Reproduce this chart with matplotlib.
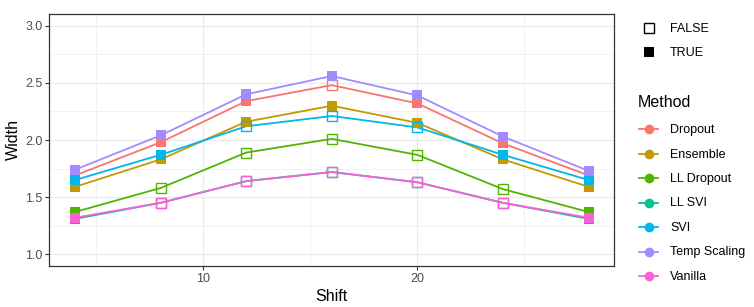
import matplotlib
matplotlib.use("Agg")
import matplotlib.pyplot as plt
from matplotlib.lines import Line2D
from matplotlib.ticker import MultipleLocator, FormatStrFormatter

plt.rcParams["font.family"] = ["Liberation Sans", "DejaVu Sans"]

# --- data ---
shift = [4, 8, 12, 16, 20, 24, 28]

methods = ["Dropout", "Ensemble", "LL Dropout", "LL SVI", "SVI", "Temp Scaling", "Vanilla"]
colors = ["#F8766D", "#C49A00", "#53B400", "#00C094", "#00B6EB", "#A58AFF", "#FB61D7"]

width_dropout = [1.69, 1.98, 2.34, 2.48, 2.32, 1.97, 1.69]
width_ensemble = [1.59, 1.83, 2.16, 2.30, 2.15, 1.83, 1.59]
width_ll_dropout = [1.37, 1.58, 1.89, 2.01, 1.87, 1.57, 1.37]
width_ll_svi = [1.31, 1.45, 1.64, 1.72, 1.63, 1.45, 1.31]
width_svi = [1.65, 1.87, 2.12, 2.21, 2.11, 1.87, 1.65]
width_temp = [1.74, 2.04, 2.40, 2.56, 2.39, 2.03, 1.73]
width_vanilla = [1.32, 1.45, 1.64, 1.72, 1.63, 1.45, 1.32]

# TRUE -> filled square, FALSE -> open square
flag_dropout = [True, True, True, False, True, True, True]
flag_ensemble = [True, True, True, True, True, True, True]
flag_ll_dropout = [True, False, False, False, False, False, True]
flag_ll_svi = [True, False, False, False, False, False, True]
flag_svi = [True, True, False, False, False, True, True]
flag_temp = [True, True, True, True, True, True, True]
flag_vanilla = [True, False, False, False, False, False, True]

widths = [width_dropout, width_ensemble, width_ll_dropout, width_ll_svi,
          width_svi, width_temp, width_vanilla]
flags = [flag_dropout, flag_ensemble, flag_ll_dropout, flag_ll_svi,
         flag_svi, flag_temp, flag_vanilla]

W, H = 754, 307
fig = plt.figure(figsize=(W / 100, H / 100), dpi=100)
ax = fig.add_axes([49.3 / W, 1 - 265.7 / H, (614.3 - 49.3) / W, (265.7 - 14.3) / H])

# lines first, then points (like geom_line + geom_point)
for y, c in zip(widths, colors):
    ax.plot(shift, y, color=c, linewidth=1.3, zorder=3)

for y, f, c in zip(widths, flags, colors):
    xs_t = [x for x, ok in zip(shift, f) if ok]
    ys_t = [v for v, ok in zip(y, f) if ok]
    xs_f = [x for x, ok in zip(shift, f) if not ok]
    ys_f = [v for v, ok in zip(y, f) if not ok]
    ax.plot(xs_t, ys_t, linestyle="none", marker="s", markersize=7.8,
            color=c, markeredgewidth=0, zorder=4)
    ax.plot(xs_f, ys_f, linestyle="none", marker="s", markersize=7.4,
            markerfacecolor="none", markeredgecolor=c, markeredgewidth=1.0, zorder=4)

ax.set_xlim(2.8, 29.2)
ax.set_ylim(0.9, 3.1)
ax.xaxis.set_major_locator(MultipleLocator(10))
ax.xaxis.set_minor_locator(MultipleLocator(5))
ax.yaxis.set_major_locator(MultipleLocator(0.5))
ax.yaxis.set_minor_locator(MultipleLocator(0.25))
ax.yaxis.set_major_formatter(FormatStrFormatter("%.1f"))

ax.grid(which="major", color="#EBEBEB", linewidth=0.9, zorder=0)
ax.grid(which="minor", color="#EBEBEB", linewidth=0.5, zorder=0)
ax.set_axisbelow(True)

for s in ax.spines.values():
    s.set_color("#333333")
    s.set_linewidth(0.9)
ax.tick_params(which="major", length=3, width=0.8, color="#333333",
               labelcolor="#4D4D4D", labelsize=9, pad=2)
ax.tick_params(which="minor", length=0)

ax.set_xlabel("Shift", fontsize=11.5, labelpad=3)
ax.set_ylabel("Width", fontsize=11.5, labelpad=3)

# --- legends drawn by hand in figure pixels ---
def fx(px):
    return px / W


def fy(py):
    return 1 - py / H


tr = fig.transFigure
fig.add_artist(Line2D([fx(649)], [fy(28)], transform=tr, marker="s", markersize=7.4,
                      markerfacecolor="none", markeredgecolor="black", markeredgewidth=1.0))
fig.text(fx(670), fy(29), "FALSE", fontsize=9, va="center", ha="left")
fig.add_artist(Line2D([fx(649)], [fy(52)], transform=tr, marker="s", markersize=7.8,
                      color="black", markeredgewidth=0))
fig.text(fx(670), fy(53), "TRUE", fontsize=9, va="center", ha="left")

fig.text(fx(638), fy(103), "Method", fontsize=11.5, va="center", ha="left")
for i, (m, c) in enumerate(zip(methods, colors)):
    yy = 129 + i * 24.5
    fig.add_artist(Line2D([fx(639), fx(658)], [fy(yy), fy(yy)], transform=tr,
                          color=c, linewidth=1.3))
    fig.add_artist(Line2D([fx(648.5)], [fy(yy)], transform=tr, marker="o",
                          markersize=7, color=c, markeredgewidth=0))
    fig.text(fx(670), fy(yy + 1), m, fontsize=9, va="center", ha="left")

fig.savefig("out.png", dpi=100)
